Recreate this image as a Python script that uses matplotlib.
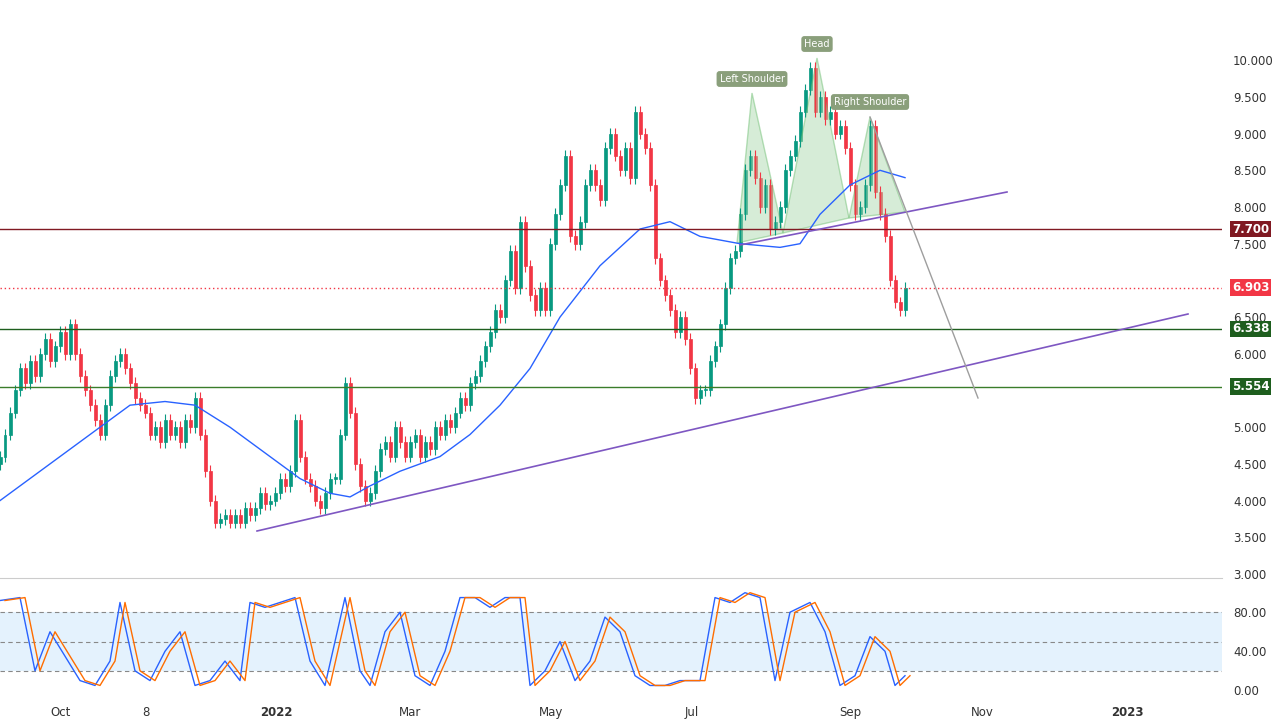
import numpy as np
import matplotlib
matplotlib.use("Agg")
import matplotlib.pyplot as plt
from matplotlib.patches import Rectangle, Polygon

# closes, one bar every 5 px of the reference
closes = [4.6,4.9,5.2,5.5,5.8, 5.6,5.9,5.7,6.0,6.2,5.9, 6.1,6.3,6.0,6.4, 6.0,5.7,5.5,
          5.3,5.1,4.9, 5.3,5.7,5.9,6.0, 5.8,5.6,5.4, 5.3,5.2,4.9,5.0, 4.8,5.1,4.9,
          5.0,4.8,5.1,5.0,5.4, 4.9,4.4,4.0,3.7, 3.75,3.8,3.7,3.8,3.7,3.9,3.8,
          3.9,4.1,3.95,4.0,4.1,4.3,4.2, 4.4,5.1,4.6,4.3, 4.2,4.0,3.9,4.1,4.3,
          4.3,4.9,5.6, 5.2,4.5,4.2,4.0, 4.1,4.4,4.7,4.8, 4.6,5.0,4.8,4.6,4.8,
          4.9,4.6,4.8,4.7,5.0, 4.9,5.1,5.0,5.2,5.4, 5.3,5.6,5.7,5.9, 6.1,6.3,6.6,6.5,
          7.0,7.4,6.9,7.8, 7.2,6.8,6.6,6.9, 6.6,7.5,7.9,8.3,8.7, 7.6,7.5,7.8,
          8.3,8.5,8.3,8.1, 8.8,9.0,8.7,8.5, 8.8,8.4,9.3,9.0, 8.8,8.3,7.3,
          7.0,6.8,6.6, 6.3,6.5,6.2, 5.8,5.4,5.5, 5.5,5.9,6.1, 6.4,6.9,7.3,
          7.4,7.9,8.5,8.7, 8.4,8.0,8.3, 7.7,7.8,8.0, 8.5,8.7,8.9,9.3,
          9.6,9.9,9.3,9.5, 9.2,9.3,9.0, 9.1,8.8,8.3, 7.9,8.0,8.3,9.1,
          8.2,7.9,7.6, 7.0,6.7,6.6,6.9]
first_open = 4.5

ma_x = [0,10,20,26,33,39,46,54,60,66,70,74,80,88,94,100,106,112,120,128,134,140,148,156,160,164,170,176,181]
ma_y = [4.0,4.5,5.0,5.3,5.35,5.3,5.0,4.6,4.3,4.1,4.05,4.2,4.4,4.6,4.9,5.3,5.8,6.5,7.2,7.7,7.8,7.6,7.5,7.45,7.5,7.9,8.3,8.5,8.4]

stoch_x = [0,4,7,10,13,16,19,22,24,27,30,33,36,39,42,45,48,50,53,56,59,62,65,69,72,74,77,80,83,86,89,92,95,98,101,104,106,109,112,115,118,121,124,127,130,133,136,140,143,146,149,152,155,158,162,165,168,171,174,177,179,181]
stoch_k = [92,95,20,60,35,10,5,30,90,20,10,40,60,5,10,30,10,90,85,90,95,30,5,95,20,5,60,80,15,5,40,95,95,85,95,95,5,20,50,10,30,75,60,15,5,5,10,10,95,90,100,95,10,80,90,60,5,15,55,40,5,15]

levels = [7.700, 6.338, 5.554]
level_colors = ["#801922", "#1e5e1e", "#3a7d2a"]
last_price = 6.903

month_pos = [12.2, 29.2, 55.2, 82, 110.2, 138.4, 170, 196.4, 225.4]
month_lab = ["Oct", "8", "2022", "Mar", "May", "Jul", "Sep", "Nov", "2023"]

def py(ypx):
    return 3 + (574 - ypx) / 73.4

fig = plt.figure(figsize=(12.8, 7.28), dpi=100, facecolor="white")
W, H = 1280, 728
ax = fig.add_axes([0, 1 - 578 / H, 1222 / W, 578 / H])
sx = fig.add_axes([0, 1 - 705 / H, 1222 / W, 125 / H], sharex=ax)

opens = [first_open] + closes[:-1]
for i, (o, c) in enumerate(zip(opens, closes)):
    col = "#089981" if c >= o else "#f23645"
    ax.vlines(i, min(o, c) - 0.08, max(o, c) + 0.08, color=col, lw=0.8)
    ax.add_patch(Rectangle((i - 0.3, min(o, c)), 0.6, max(abs(c - o), 0.02),
                           facecolor=col, edgecolor=col, lw=0.5))
ax.plot(ma_x, ma_y, color="#2962ff", lw=1.0)

for lv, lc in zip(levels, level_colors):
    ax.axhline(lv, color=lc, lw=1.0)
ax.axhline(last_price, color="#f23645", lw=1.0, ls=(0, (1, 2)))

# trend lines and pattern
ax.plot([257 / 5, 1188 / 5], [py(531), py(314)], color="#7e57c2", lw=1.2)
ax.plot([740 / 5, 1007 / 5], [py(245), py(192)], color="#7e57c2", lw=1.2)
ax.plot([870 / 5, 978 / 5], [py(117), py(398)], color="#9e9e9e", lw=1.0)
for tri in [[(737, 243), (752, 93), (783, 233)], [(783, 233), (817, 58), (849, 218)],
            [(849, 218), (870, 117), (905, 212)]]:
    ax.add_patch(Polygon([(x / 5, py(y)) for x, y in tri], closed=True,
                         facecolor="#a5d6a7", alpha=0.45, edgecolor="#66bb6a", lw=1))
for txt, x, y in [("Head", 817, 44), ("Left Shoulder", 752, 79), ("Right Shoulder", 870, 102)]:
    ax.text(x / 5, py(y), txt, ha="center", va="center", color="white", fontsize=7,
            bbox=dict(boxstyle="round,pad=0.3", fc="#8a9f7b", ec="none"))

ax.set_xlim(0, 1222 / 5)
ax.set_ylim(py(578), py(0))
ax.yaxis.tick_right()
yt = [3.0, 3.5, 4.0, 4.5, 5.0, 6.0, 6.5, 7.5, 8.0, 8.5, 9.0, 9.5, 10.0]
ax.set_yticks(yt)
ax.set_yticklabels([f"{v:.3f}" for v in yt], fontsize=8.5, color="#333333")
ax.tick_params(axis="y", length=0, pad=8)
ax.tick_params(axis="x", bottom=False, labelbottom=False)
for s in ["top", "left", "right"]:
    ax.spines[s].set_visible(False)
ax.spines["bottom"].set_color("#cccccc")

boxes = [(7.700, "#801922"), (6.903, "#f23645"), (6.338, "#1e5e1e"), (5.554, "#1e5e1e")]
for v, bc in boxes:
    ax.text(1.008, (v - py(578)) / (py(0) - py(578)), f"{v:.3f}", transform=ax.transAxes,
            ha="left", va="center", color="white", fontsize=8.5, fontweight="bold",
            bbox=dict(boxstyle="square,pad=0.15", fc=bc, ec="none"), clip_on=False)

# stochastic panel
sx.axhspan(20, 80, color="#2196f3", alpha=0.12, lw=0)
for lv in [20, 50, 80]:
    sx.axhline(lv, color="#888888", lw=0.8, ls=(0, (4, 3)))
sx.plot(stoch_x, stoch_k, color="#2962ff", lw=1.0)
sx.plot([x + 1 for x in stoch_x], stoch_k, color="#ff6d00", lw=1.0)
sx.set_ylim(-15, 113)
sx.yaxis.tick_right()
sx.set_yticks([0, 40, 80])
sx.set_yticklabels(["0.00", "40.00", "80.00"], fontsize=8.5, color="#333333")
sx.tick_params(axis="y", length=0, pad=8)
sx.set_xticks(month_pos)
sx.set_xticklabels(month_lab, fontsize=8.5, color="#333333")
for t in sx.get_xticklabels():
    if t.get_text() in ("2022", "2023"):
        t.set_fontweight("bold")
sx.tick_params(axis="x", length=0, pad=1)
for s in ["top", "left", "right", "bottom"]:
    sx.spines[s].set_visible(False)

fig.savefig("out.png", dpi=100, facecolor="white")
